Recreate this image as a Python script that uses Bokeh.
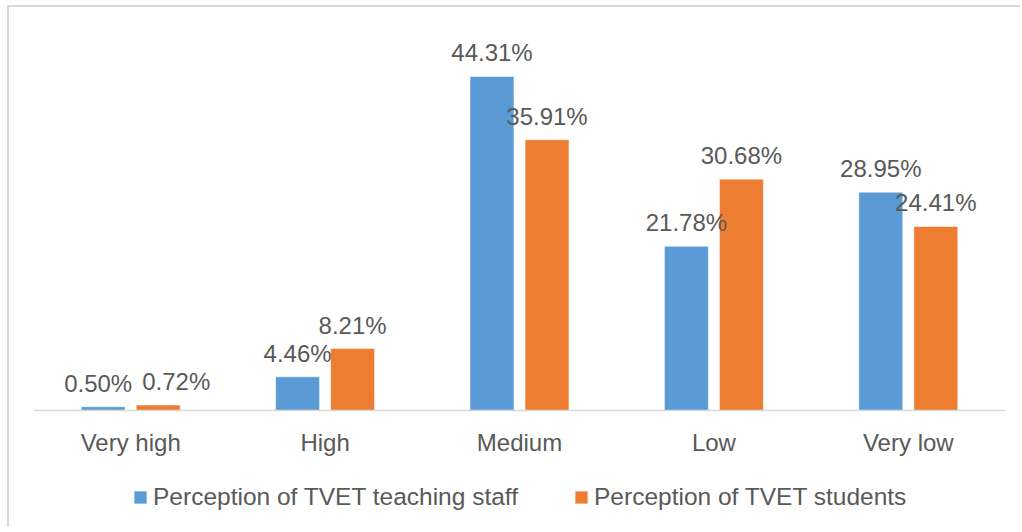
from bokeh.plotting import figure
from bokeh.models import ColumnDataSource, FactorRange, Range1d, LabelSet, Legend, LegendItem
from bokeh.transform import dodge
from bokeh.core.properties import value
from bokeh.embed import file_html
from bokeh.resources import INLINE

categories = ["Very high", "High", "Medium", "Low", "Very low"]
staff = [0.50, 4.46, 44.31, 21.78, 28.95]
students = [0.72, 8.21, 35.91, 30.68, 24.41]
series_names = ["Perception of TVET teaching staff", "Perception of TVET students"]
colors = ["#5B9BD5", "#ED7D31"]

FONT = "Liberation Sans"
GRAY = "#595959"

# label nudges (screen px) so the two small labels do not overlap
nudge_staff = [-5, 0, 0, 0, 0]
nudge_students = [18, 0, 0, 0, 0]

source = ColumnDataSource(dict(
    cat=categories,
    staff=staff,
    students=students,
    staff_lbl=[f"{v:.2f}%" for v in staff],
    students_lbl=[f"{v:.2f}%" for v in students],
    staff_dx=nudge_staff,
    students_dx=nudge_students,
))

p = figure(frame_width=972, frame_height=494, x_range=FactorRange(*categories, range_padding=0),
           y_range=Range1d(-15.52, 50), output_backend="svg", toolbar_location=None,
           min_border_left=24, min_border_right=15, min_border_top=26, min_border_bottom=0)
p.styles = {"border-left": "2px solid #d9d9d9", "border-top": "2px solid #d9d9d9",
            "margin-left": "7px", "margin-top": "5px"}

off = 0.1415
bw = 0.226
r1 = p.vbar(x=dodge("cat", -off, range=p.x_range), top="staff", width=bw, source=source,
            fill_color=colors[0], line_color="white", line_width=0.5)
r2 = p.vbar(x=dodge("cat", off, range=p.x_range), top="students", width=bw, source=source,
            fill_color=colors[1], line_color="white", line_width=0.5)

for name, o in (("staff", -off), ("students", off)):
    lab = LabelSet(x=dodge("cat", o, range=p.x_range), y=name, text=name + "_lbl", source=source,
                   x_offset=name + "_dx",
                   text_align="center", text_baseline="alphabetic", y_offset=15,
                   text_font=value(FONT), text_font_size=value("24px"), text_color=GRAY)
    p.add_layout(lab)

p.yaxis.visible = False
p.xgrid.grid_line_color = None
p.ygrid.grid_line_color = None
p.outline_line_color = None

ax = p.xaxis[0]
ax.fixed_location = 0
ax.axis_line_color = "#d9d9d9"
ax.axis_line_width = 1.5
ax.major_tick_line_color = None
ax.minor_tick_line_color = None
ax.major_label_text_font = FONT
ax.major_label_text_font_size = "24px"
ax.major_label_text_color = GRAY
ax.major_label_standoff = 13

legend = Legend(items=[LegendItem(label=series_names[0], renderers=[r1]),
                       LegendItem(label=series_names[1], renderers=[r2])],
                orientation="horizontal", location=(99, 16),
                label_text_font=FONT, label_text_font_size="24.5px", label_text_color=GRAY,
                glyph_width=16, glyph_height=16, label_standoff=5, spacing=55,
                border_line_color=None, background_fill_alpha=0, margin=0, padding=4)
p.add_layout(legend, "center")

open("out.html", "w").write(file_html(p, INLINE))
